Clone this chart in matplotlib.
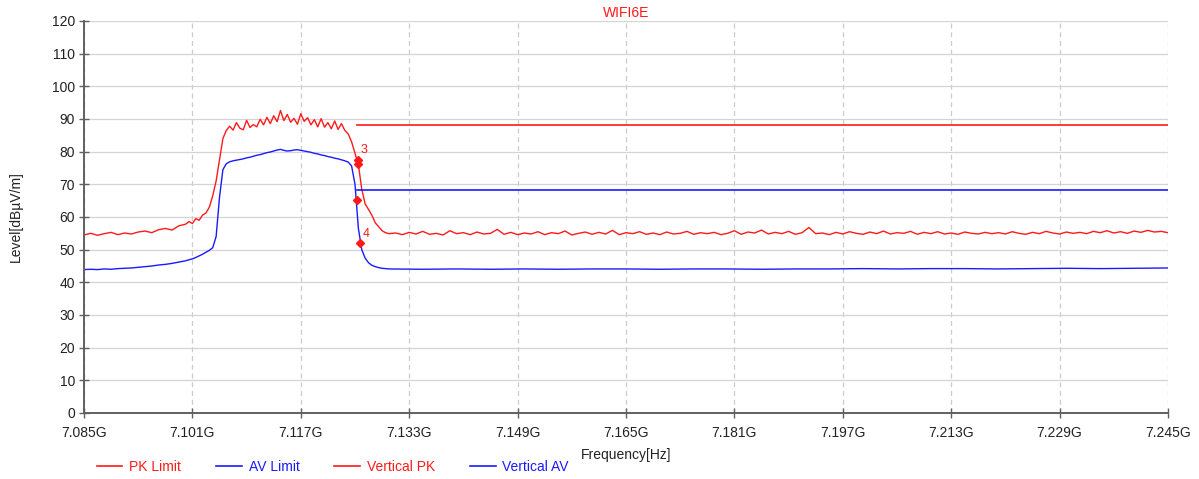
import matplotlib
matplotlib.use("Agg")
import matplotlib.pyplot as plt
from matplotlib.lines import Line2D

plt.rcParams['font.family'] = ['Liberation Sans', 'DejaVu Sans']

# ---------------- data ----------------
title = "WIFI6E"
x_ticks = [7.085, 7.101, 7.117, 7.133, 7.149, 7.165, 7.181, 7.197, 7.213, 7.229, 7.245]
x_tick_labels = ["7.085G", "7.101G", "7.117G", "7.133G", "7.149G", "7.165G",
                 "7.181G", "7.197G", "7.213G", "7.229G", "7.245G"]
y_ticks = [0, 10, 20, 30, 40, 50, 60, 70, 80, 90, 100, 110, 120]

limit_freq = [7.1253, 7.245]
pk_limit = [88.2, 88.2]
av_limit = [68.2, 68.2]

# Vertical PK trace
pk_freq_start = [7.085, 7.086, 7.087, 7.088, 7.089, 7.090, 7.091, 7.092, 7.093,
                 7.094, 7.095, 7.096, 7.097, 7.098, 7.099, 7.100]
pk_level_start = [54.5, 55.0, 54.4, 54.9, 55.3, 54.6, 55.1, 54.8, 55.4,
                  55.7, 55.2, 56.1, 56.5, 56.0, 57.3, 57.8]
pk_freq_band = [7.1005, 7.101, 7.1015, 7.102, 7.1025, 7.103, 7.1035, 7.104, 7.1045,
                7.105, 7.1055, 7.106, 7.1065, 7.107, 7.1075, 7.108, 7.1085, 7.109,
                7.1095, 7.110, 7.1105, 7.111, 7.1115, 7.112, 7.1125, 7.113, 7.1135,
                7.114, 7.1145, 7.115, 7.1155, 7.116, 7.1165, 7.117, 7.1175, 7.118,
                7.1185, 7.119, 7.1195, 7.120, 7.1205, 7.121, 7.1215, 7.122, 7.1225,
                7.123, 7.1235, 7.124, 7.1245, 7.125, 7.1255, 7.126, 7.1265, 7.127,
                7.1275, 7.128, 7.1285, 7.129, 7.1295, 7.130]
pk_level_band = [58.6, 58.0, 59.5, 59.0, 60.6, 61.2, 63.0, 66.5, 71.0,
                 77.5, 84.0, 86.5, 87.8, 86.6, 88.9, 87.2, 86.7, 89.6,
                 87.4, 88.3, 87.6, 89.9, 88.2, 90.5, 88.6, 91.0, 89.2,
                 92.6, 89.5, 91.4, 89.0, 90.2, 88.4, 91.6, 89.3, 90.4,
                 88.2, 89.8, 87.6, 90.1, 87.5, 88.9, 87.0, 89.4, 86.8,
                 88.6, 86.5, 85.4, 83.0, 79.5, 76.0, 68.5, 64.0, 62.3,
                 60.5, 58.2, 57.0, 55.8, 55.2, 54.9]
pk_freq_tail = [round(7.131 + 0.001 * i, 3) for i in range(115)]
pk_level_tail = [
    55.1, 54.6, 55.3, 54.8, 55.6, 54.7, 55.0, 54.5, 55.8, 54.9,
    55.2, 54.6, 55.4, 54.8, 55.0, 56.2, 54.7, 55.3, 54.6, 55.1,
    54.8, 55.5, 54.6, 55.2, 54.9, 55.7, 54.5, 55.0, 55.4, 54.7,
    55.3, 54.8, 55.9, 54.6, 55.2, 54.9, 55.5, 54.7, 55.1, 54.6,
    55.4, 54.8, 55.0, 55.6, 54.7, 55.2, 54.9, 55.3, 54.6, 55.0,
    55.8, 54.7, 55.4, 55.1, 56.0, 54.8, 55.3, 54.9, 55.6, 54.7,
    55.2, 56.8, 54.9, 55.1, 54.6, 55.3, 54.8, 55.5, 55.0, 54.7,
    55.4, 54.9, 55.7, 54.8, 55.2, 55.0, 55.6, 54.7, 55.3, 54.9,
    55.5, 54.8, 55.1, 54.7, 55.4, 55.0, 54.8, 55.3, 54.9, 55.2,
    54.8, 55.5, 55.0, 54.7, 55.3, 54.9, 55.6, 55.1, 54.8, 55.4,
    55.0, 55.3, 54.9, 55.6, 55.2, 55.8, 55.1, 55.5, 55.0, 55.7,
    55.3, 55.9, 55.4, 55.6, 55.2]

# Vertical AV trace
av_freq_start = pk_freq_start
av_level_start = [43.9, 44.0, 43.9, 44.1, 44.0, 44.2, 44.3, 44.4, 44.6,
                  44.8, 45.0, 45.3, 45.5, 45.8, 46.2, 46.6]
av_freq_band = pk_freq_band
av_level_band = [46.9, 47.2, 47.6, 48.1, 48.6, 49.2, 49.8, 50.6, 54.0,
                 66.0, 74.5, 76.3, 76.9, 77.2, 77.4, 77.6, 77.8, 78.1,
                 78.3, 78.6, 78.9, 79.1, 79.4, 79.7, 79.9, 80.2, 80.5,
                 80.7, 80.4, 80.2, 80.3, 80.5, 80.6, 80.4, 80.2, 80.0,
                 79.8, 79.5, 79.3, 79.0, 78.8, 78.5, 78.3, 78.0, 77.8,
                 77.5, 77.2, 76.8, 75.6, 70.0, 56.5, 50.0, 47.4, 46.0,
                 45.2, 44.8, 44.5, 44.3, 44.2, 44.1]
av_freq_tail = [7.135, 7.140, 7.145, 7.150, 7.155, 7.160, 7.165, 7.170, 7.175,
                7.180, 7.185, 7.190, 7.195, 7.200, 7.205, 7.210, 7.215, 7.220,
                7.225, 7.230, 7.235, 7.240, 7.245]
av_level_tail = [44.0, 44.1, 44.0, 44.1, 44.0, 44.1, 44.1, 44.0, 44.1, 44.1,
                 44.0, 44.1, 44.1, 44.2, 44.1, 44.2, 44.2, 44.1, 44.2, 44.3,
                 44.2, 44.3, 44.4]

marker_freq = [7.1254, 7.1254, 7.1253, 7.1258]
marker_level = [77.6, 76.2, 65.2, 52.0]
marker_labels = ["3", "", "", "4"]

# ---------------- plot ----------------
RED = "#ff1a1a"
BLUE = "#1a1aff"
FS = 10

fig = plt.figure(figsize=(11.99, 4.79), dpi=100)
ax = fig.add_axes([84 / 1199, 1 - 413 / 479, (1168 - 84) / 1199, (413 - 21) / 479])

ax.plot(pk_freq_start + pk_freq_band + pk_freq_tail,
        pk_level_start + pk_level_band + pk_level_tail, color=RED, lw=1.0)
ax.plot(av_freq_start + av_freq_band + av_freq_tail,
        av_level_start + av_level_band + av_level_tail, color=BLUE, lw=1.0)
ax.plot(limit_freq, pk_limit, color=RED, lw=1.2)
ax.plot(limit_freq, av_limit, color=BLUE, lw=1.2)

ax.plot(marker_freq, marker_level, linestyle="none", marker="D",
        markersize=4.5, color=RED)
for f, v, lab in zip(marker_freq, marker_level, marker_labels):
    if lab:
        ax.text(f + 0.0004, v + 1.0, lab, color=RED, fontsize=FS - 1, ha="left", va="bottom")

ax.set_xlim(7.085, 7.245)
ax.set_ylim(0, 120)
ax.set_xticks(x_ticks)
ax.set_xticklabels(x_tick_labels)
ax.set_yticks(y_ticks)

for s in ["top", "right"]:
    ax.spines[s].set_visible(False)
for s in ["left", "bottom"]:
    ax.spines[s].set_color("#606060")
    ax.spines[s].set_linewidth(1.4)

ax.tick_params(axis="both", direction="inout", length=7, width=1.0,
               color="#606060", labelsize=FS, labelcolor="#222222")
ax.tick_params(axis="x", pad=6)
ax.tick_params(axis="y", pad=3)

ax.yaxis.grid(True, color="#d4d4d4", lw=0.9, ls="-")
ax.xaxis.grid(True, color="#cccccc", lw=0.9, ls=(0, (4, 3)))
ax.set_axisbelow(True)

fig.text(626 / 1199, 1 - 13 / 479, title, color=RED, fontsize=FS, ha="center", va="center")
fig.text(626 / 1199, 1 - 455 / 479, "Frequency[Hz]", color="#222222", fontsize=FS,
         ha="center", va="center")
fig.text(16 / 1199, 1 - 217 / 479, "Level[dB\u00b5V/m]", color="#222222", fontsize=FS,
         ha="center", va="center", rotation=90)

handles = [Line2D([], [], color=RED, lw=1.2), Line2D([], [], color=BLUE, lw=1.2),
           Line2D([], [], color=RED, lw=1.2), Line2D([], [], color=BLUE, lw=1.2)]
labels = ["PK Limit", "AV Limit", "Vertical PK", "Vertical AV"]
fig.legend(handles, labels, loc="center left", bbox_to_anchor=(94 / 1199, 1 - 467 / 479),
           ncol=4, frameon=False, fontsize=FS, labelcolor=[RED, BLUE, RED, BLUE],
           handlelength=1.85, handletextpad=0.5, columnspacing=2.5, borderpad=0.2,
           borderaxespad=0.0)

fig.savefig("out.png", dpi=100)
